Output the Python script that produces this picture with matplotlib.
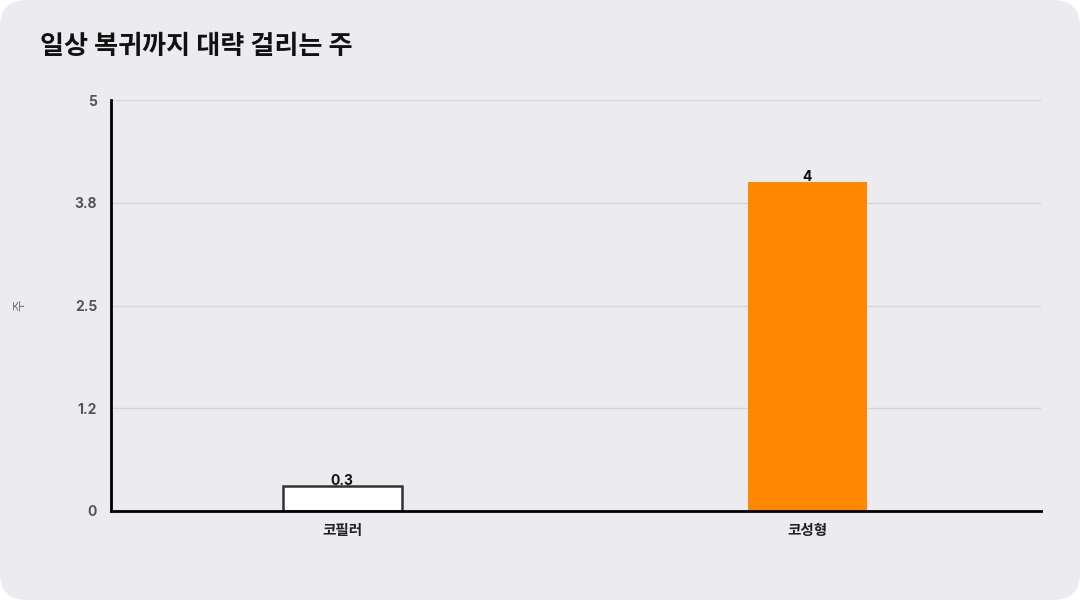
import matplotlib
matplotlib.use('Agg')
import matplotlib.pyplot as plt
from matplotlib.patches import FancyBboxPatch

plt.rcParams['font.family'] = ['Inter', 'Noto Sans CJK KR', 'DejaVu Sans']

# data
title = '일상 복귀까지 대략 걸리는 주'
categories = ['코필러', '코성형']
values = [0.3, 4]
bar_colors = ['#FFFFFF', '#FF8800']
edge_colors = ['#333333', '#FF8800']
y_ticks = [0, 1.25, 2.5, 3.75, 5]
y_tick_labels = ['0', '1.2', '2.5', '3.8', '5']
y_label = '주'

fig = plt.figure(figsize=(10.8, 6), dpi=100)
fig.patch.set_facecolor('white')
bg = FancyBboxPatch((0, 0), 1, 1,
                    boxstyle='round,pad=0,rounding_size=0.025',
                    transform=fig.transFigure, facecolor='#ECEBF0',
                    edgecolor='none', mutation_aspect=1.8, zorder=-10)
fig.patches.append(bg)

ax = fig.add_axes([111 / 1080, 89 / 600, 930 / 1080, 411 / 600])
ax.set_facecolor('none')

x = list(range(len(categories)))
ax.bar(x, values, width=0.256, color=bar_colors, edgecolor=edge_colors,
       linewidth=[1.8, 0], zorder=3)

for xi, v in zip(x, values):
    ax.annotate(f'{v:g}', (xi, v), xytext=(0, -1.5), textcoords='offset points',
                ha='center', va='bottom', fontsize=10, fontweight='bold',
                color='#111111', zorder=4)

ax.set_xlim(-0.497, 1.503)
ax.set_ylim(0, 5)
ax.set_yticks(y_ticks)
ax.set_yticklabels(y_tick_labels)
ax.set_xticks(x)
ax.set_xticklabels(categories)
ax.tick_params(axis='y', length=0, pad=10, labelsize=10, labelcolor='#555555')
ax.tick_params(axis='x', length=0, pad=9, labelsize=10.5, labelcolor='#222222')
for lbl in ax.get_yticklabels() + ax.get_xticklabels():
    lbl.set_fontweight('bold')

ax.grid(axis='y', color='#D6D5DA', linewidth=1, zorder=0)
ax.grid(axis='x', visible=False)
for s in ['top', 'right']:
    ax.spines[s].set_visible(False)
for s in ['left', 'bottom']:
    ax.spines[s].set_color('black')
    ax.spines[s].set_linewidth(2)
    ax.spines[s].set_zorder(5)

fig.text(20 / 1080, 1 - 305 / 600, y_label, rotation=90, ha='center', va='center',
         fontsize=9, color='#666666')

fig.text(40 / 1080, 1 - 47 / 600, title, ha='left', va='center',
         fontsize=18.8, fontweight='bold', color='#111111')

plt.savefig('out.png', dpi=100, facecolor=fig.get_facecolor())
